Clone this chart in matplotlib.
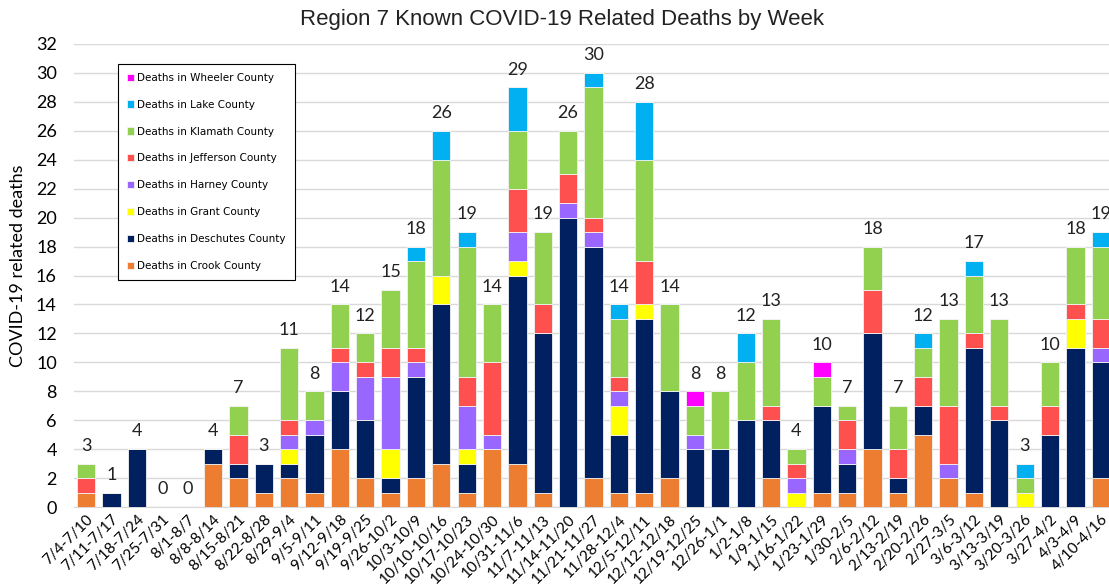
import matplotlib
matplotlib.use("Agg")
import matplotlib.pyplot as plt
import numpy as np

weeks = ["7/4-7/10", "7/11-7/17", "7/18-7/24", "7/25-7/31", "8/1-8/7", "8/8-8/14",
         "8/15-8/21", "8/22-8/28", "8/29-9/4", "9/5-9/11", "9/12-9/18", "9/19-9/25",
         "9/26-10/2", "10/3-10/9", "10/10-10/16", "10/17-10/23", "10/24-10/30",
         "10/31-11/6", "11/7-11/13", "11/14-11/20", "11/21-11/27", "11/28-12/4",
         "12/5-12/11", "12/12-12/18", "12/19-12/25", "12/26-1/1", "1/2-1/8",
         "1/9-1/15", "1/16-1/22", "1/23-1/29", "1/30-2/5", "2/6-2/12", "2/13-2/19",
         "2/20-2/26", "2/27-3/5", "3/6-3/12", "3/13-3/19", "3/20-3/26", "3/27-4/2",
         "4/3-4/9", "4/10-4/16"]

crook     = [1,0,0,0,0,3,2,1,2,1,4,2,1,2,3,1,4,3,1,0,2,1,1,2,0,0,0,2,0,1,1,4,1,5,2,1,0,0,0,0,2]
deschutes = [0,1,4,0,0,1,1,2,1,4,4,4,1,7,11,2,0,13,11,20,16,4,12,6,4,4,6,4,0,6,2,8,1,2,0,10,6,0,5,11,8]
grant     = [0,0,0,0,0,0,0,0,1,0,0,0,2,0,2,1,0,1,0,0,0,2,1,0,0,0,0,0,1,0,0,0,0,0,0,0,0,1,0,2,0]
harney    = [0,0,0,0,0,0,0,0,1,1,2,3,5,1,0,3,1,2,0,1,1,1,0,0,1,0,0,0,1,0,1,0,0,0,1,0,0,0,0,0,1]
jefferson = [1,0,0,0,0,0,2,0,1,0,1,1,2,1,0,2,5,3,2,2,1,1,3,0,0,0,0,1,1,0,2,3,2,2,4,1,1,0,2,1,2]
klamath   = [1,0,0,0,0,0,2,0,5,2,3,2,4,6,8,9,4,4,5,3,9,4,7,6,2,4,4,6,1,2,1,3,3,2,6,4,6,1,3,4,5]
lake      = [0,0,0,0,0,0,0,0,0,0,0,0,0,1,2,1,0,3,0,0,1,1,4,0,0,0,2,0,0,0,0,0,0,1,0,1,0,1,0,0,1]
wheeler   = [0,0,0,0,0,0,0,0,0,0,0,0,0,0,0,0,0,0,0,0,0,0,0,0,1,0,0,0,0,1,0,0,0,0,0,0,0,0,0,0,0]

series = [
    ("Deaths in Crook County", crook, "#ED7D31"),
    ("Deaths in Deschutes County", deschutes, "#002060"),
    ("Deaths in Grant County", grant, "#FFFF00"),
    ("Deaths in Harney County", harney, "#9966FF"),
    ("Deaths in Jefferson County", jefferson, "#FF5050"),
    ("Deaths in Klamath County", klamath, "#92D050"),
    ("Deaths in Lake County", lake, "#00B0F0"),
    ("Deaths in Wheeler County", wheeler, "#FF00FF"),
]

W, H = 1109, 587
fig = plt.figure(figsize=(W/100, H/100), dpi=100)
x0, x1 = 73.5, 1113.5
y0, y1 = 507, 44
ax = fig.add_axes([x0/W, 1 - y0/H, (x1-x0)/W, (y0-y1)/H])

x = np.arange(len(weeks))
bottom = np.zeros(len(weeks))
handles = []
for name, vals, col in series:
    v = np.array(vals, dtype=float)
    b = ax.bar(x, v, 0.72, bottom=bottom, color=col, edgecolor="#F2F2F2",
               linewidth=0.6, label=name, zorder=3)
    handles.append(b)
    bottom += v

totals = bottom
for xi, t in zip(x, totals):
    ax.annotate(f"{int(t)}", (xi, t), xytext=(0, 7), textcoords="offset points",
                ha="center", va="bottom", fontsize=13, family="Lato", color="#222222")

ax.set_xlim(-0.5, len(weeks) - 0.5)
ax.set_ylim(0, 32)
ax.set_yticks(np.arange(0, 33, 2))
ax.yaxis.grid(True, color="#D9D9D9", linewidth=1, zorder=0)
ax.set_axisbelow(True)
for s in ["top", "right", "left"]:
    ax.spines[s].set_visible(False)
ax.spines["bottom"].set_color("#D9D9D9")
ax.tick_params(axis="both", length=0)
for lab in ax.get_yticklabels():
    lab.set_family("Lato")
    lab.set_fontsize(13)
ax.tick_params(axis="y", pad=12)
ax.set_xticks(x)
ax.set_xticklabels(weeks, rotation=45, ha="right", va="top", rotation_mode="anchor",
                   fontsize=11, family="Lato")
ax.tick_params(axis="x", pad=4)

ax.set_ylabel("COVID-19 related deaths", fontsize=13, family="Lato")
ax.yaxis.set_label_coords(-0.046, (y0 - 266) / (y0 - y1))

fig.text(562/W, 1 - 20/H, "Region 7 Known COVID-19 Related Deaths by Week",
         ha="center", va="center", fontsize=16, family="Liberation Sans",
         color="#222222")

leg = ax.legend(handles[::-1], [s[0] for s in series][::-1], loc="upper left",
                bbox_to_anchor=((118 - x0)/(x1 - x0), (y0 - 64)/(y0 - y1)),
                fontsize=7.5, handlelength=0.7, handleheight=0.7, handletextpad=0.3,
                labelspacing=1.62, borderpad=0.85, fancybox=False, framealpha=1,
                edgecolor="black", borderaxespad=0)
leg.get_frame().set_linewidth(0.8)

fig.savefig("out.png", dpi=100)
